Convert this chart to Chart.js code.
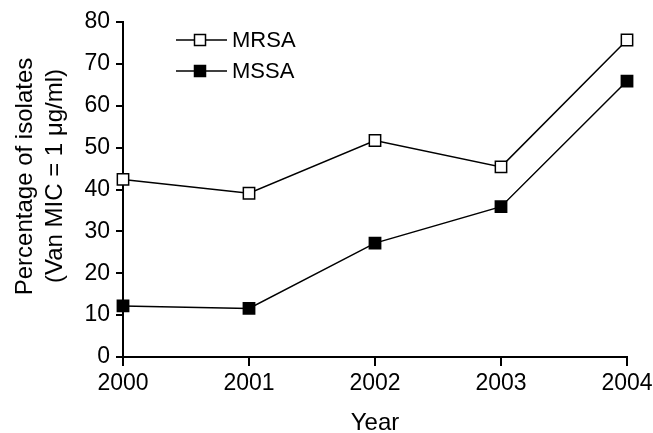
<!DOCTYPE html>
<html>
<head>
<meta charset="utf-8">
<script src="https://cdn.jsdelivr.net/npm/chart.js@4"></script>
<style>
  html, body { margin: 0; padding: 0; background: #fff; }
  #wrap { width: 653px; height: 433px; }
</style>
</head>
<body>
<div id="wrap"><canvas id="chart" width="653" height="433"></canvas></div>
<script>
const years = ["2000", "2001", "2002", "2003", "2004"];
const mrsa = [42.4, 39.1, 51.7, 45.4, 75.7];
const mssa = [12.2, 11.6, 27.2, 35.9, 65.9];
const yTitle = ["Percentage of isolates", "(Van MIC = 1 \u03bcg/ml)"];
const xTitle = "Year";

const FONT = "'Liberation Sans', Arial, sans-serif";

// legend + rotated y title drawn by hand so they sit where the original does
const extras = {
  id: "extras",
  afterDraw(c) {
    const ctx = c.ctx;
    ctx.save();
    ctx.fillStyle = "#000";
    ctx.strokeStyle = "#000";
    ctx.font = "24px " + FONT;
    ctx.textAlign = "center";
    ctx.textBaseline = "alphabetic";
    [[31.5, 176.5], [62, 176]].forEach((p, i) => {
      ctx.save();
      ctx.translate(p[0], p[1]);
      ctx.rotate(-Math.PI / 2);
      ctx.fillText(yTitle[i], 0, 0);
      ctx.restore();
    });

    ctx.font = "22px " + FONT;
    ctx.textAlign = "left";
    ctx.textBaseline = "middle";
    c.data.datasets.forEach((ds, i) => {
      const y = 40 + i * 31;
      ctx.lineWidth = 1.5;
      ctx.beginPath();
      ctx.moveTo(176, y);
      ctx.lineTo(227, y);
      ctx.stroke();
      const s = 11;
      ctx.fillStyle = ds.pointBackgroundColor;
      ctx.fillRect(200 - s / 2, y - s / 2, s, s);
      ctx.lineWidth = 1.5;
      ctx.strokeRect(200 - s / 2, y - s / 2, s, s);
      ctx.fillStyle = "#000";
      ctx.fillText(ds.label, 232, y + 1);
    });
    ctx.restore();
  }
};

new Chart(document.getElementById("chart"), {
  type: "line",
  data: {
    labels: years,
    datasets: [
      {
        label: "MRSA",
        data: mrsa,
        borderColor: "#000",
        borderWidth: 1.5,
        pointStyle: "rect",
        pointRadius: 8,
        pointBorderWidth: 1.5,
        pointBorderColor: "#000",
        pointBackgroundColor: "#fff",
        tension: 0
      },
      {
        label: "MSSA",
        data: mssa,
        borderColor: "#000",
        borderWidth: 1.5,
        pointStyle: "rect",
        pointRadius: 8,
        pointBorderWidth: 1.5,
        pointBorderColor: "#000",
        pointBackgroundColor: "#000",
        tension: 0
      }
    ]
  },
  options: {
    responsive: false,
    animation: false,
    events: [],
    layout: { padding: { left: 0, right: 26, top: 22, bottom: 0 } },
    plugins: {
      legend: { display: false },
      tooltip: { enabled: false }
    },
    scales: {
      x: {
        offset: false,
        grid: { display: true, drawOnChartArea: false, drawTicks: true, tickLength: 9, color: "#000", lineWidth: 2 },
        border: { display: true, color: "#000", width: 2 },
        ticks: { color: "#000", font: { family: FONT, size: 23 }, padding: 4, maxRotation: 0 },
        title: { display: true, text: xTitle, color: "#000", font: { family: FONT, size: 24, lineHeight: 0.8 }, padding: 0 },
        afterFit(s) { s.height = 76; s.paddingLeft = 0; s.paddingRight = 0; }
      },
      y: {
        min: 0,
        max: 80,
        grid: { display: true, drawOnChartArea: false, drawTicks: true, tickLength: 7, color: "#000", lineWidth: 2 },
        border: { display: true, color: "#000", width: 2 },
        ticks: { stepSize: 10, color: "#000", font: { family: FONT, size: 23 }, padding: 6 },
        afterFit(s) { s.width = 123; }
      }
    }
  },
  plugins: [extras]
});
</script>
</body>
</html>
